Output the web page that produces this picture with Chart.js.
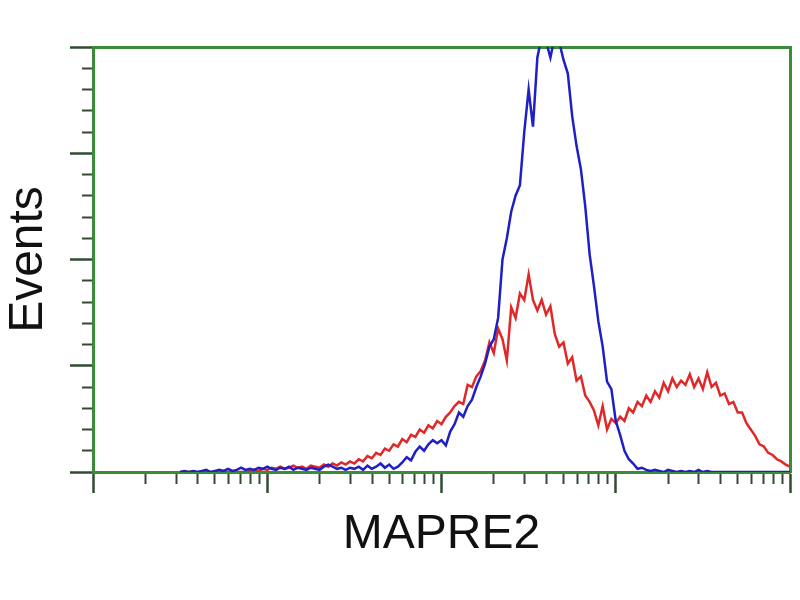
<!DOCTYPE html>
<html>
<head>
<meta charset="utf-8">
<script src="https://cdn.jsdelivr.net/npm/chart.js@4/dist/chart.umd.min.js"></script>
<style>
  html, body { margin: 0; padding: 0; background: #fff; }
  canvas { display: block; }
</style>
</head>
<body>
<canvas id="chart" width="800" height="600"></canvas>
<script>
// bin positions in log decades (0 = 10^0 ... 4 = 10^4)
const decades = [
  0.5, 0.525, 0.55, 0.575, 0.6, 0.625, 0.65, 0.675, 0.7, 0.725,
  0.75, 0.775, 0.8, 0.825, 0.85, 0.875, 0.9, 0.925, 0.95, 0.975,
  1, 1.025, 1.05, 1.075, 1.1, 1.125, 1.15, 1.175, 1.2, 1.225,
  1.25, 1.275, 1.3, 1.325, 1.35, 1.375, 1.4, 1.425, 1.45, 1.475,
  1.5, 1.525, 1.55, 1.575, 1.6, 1.625, 1.65, 1.675, 1.7, 1.725,
  1.75, 1.775, 1.8, 1.825, 1.85, 1.875, 1.9, 1.925, 1.95, 1.975,
  2, 2.025, 2.05, 2.075, 2.1, 2.125, 2.15, 2.175, 2.2, 2.225,
  2.25, 2.275, 2.3, 2.325, 2.35, 2.375, 2.4, 2.425, 2.45, 2.475,
  2.5, 2.525, 2.55, 2.575, 2.6, 2.625, 2.65, 2.675, 2.7, 2.725,
  2.75, 2.775, 2.8, 2.825, 2.85, 2.875, 2.9, 2.925, 2.95, 2.975,
  3, 3.025, 3.05, 3.075, 3.1, 3.125, 3.15, 3.175, 3.2, 3.225,
  3.25, 3.275, 3.3, 3.325, 3.35, 3.375, 3.4, 3.425, 3.45, 3.475,
  3.5, 3.525, 3.55, 3.575, 3.6, 3.625, 3.65, 3.675, 3.7, 3.725,
  3.75, 3.775, 3.8, 3.825, 3.85, 3.875, 3.9, 3.925, 3.95, 3.975,
  4
];

const blueEvents = [
  0, 0.01, 0, 0.01, 0, 0.01, 0.02, 0, 0.01, 0.02,
  0.01, 0.03, 0.01, 0.02, 0.04, 0.02, 0.03, 0.02, 0.04, 0.03,
  0.05, 0.03, 0.02, 0.04, 0.03, 0.05, 0.02, 0.04, 0.03, 0.02,
  0.04, 0.03, 0.02, 0.05, 0.07, 0.05, 0.03, 0.04, 0.02, 0.04,
  0.03, 0.05, 0.02, 0.06, 0.03, 0.05, 0.08, 0.04, 0.07, 0.03,
  0.05, 0.09, 0.14, 0.11, 0.19, 0.24, 0.20, 0.26, 0.30, 0.27,
  0.30, 0.25, 0.38, 0.45, 0.56, 0.52, 0.62, 0.68, 0.80, 0.90,
  1.02, 1.18, 1.25, 1.45, 2.00, 2.20, 2.45, 2.60, 2.70, 3.20,
  3.60, 3.25, 3.90, 4.10, 4.05, 3.90, 4.10, 4.05, 3.88, 3.75,
  3.35, 3.07, 2.85, 2.50, 2.05, 1.75, 1.42, 1.18, 0.85, 0.78,
  0.48, 0.35, 0.20, 0.12, 0.08, 0.03, 0.04, 0.02, 0.01, 0.02,
  0.01, 0, 0.02, 0.01, 0, 0.01, 0, 0.01, 0, 0.02,
  0, 0.01, 0, 0, 0, 0, 0, 0, 0, 0,
  0, 0, 0, 0, 0, 0, 0, 0, 0, 0,
  0
];

const redEvents = [
  0, 0, 0, 0, 0, 0, 0, 0, 0, 0,
  0, 0, 0, 0, 0, 0, 0.01, 0.02, 0.01, 0.03,
  0.02, 0.04, 0.03, 0.05, 0.03, 0.04, 0.06, 0.04, 0.05, 0.03,
  0.06, 0.05, 0.04, 0.07, 0.05, 0.08, 0.06, 0.09, 0.07, 0.10,
  0.08, 0.12, 0.10, 0.15, 0.13, 0.18, 0.16, 0.22, 0.20, 0.26,
  0.24, 0.31, 0.28, 0.35, 0.33, 0.40, 0.37, 0.44, 0.41, 0.48,
  0.45, 0.52, 0.56, 0.62, 0.66, 0.64, 0.82, 0.80, 0.90, 0.95,
  1.05, 1.22, 1.12, 1.35, 1.25, 1.05, 1.55, 1.45, 1.68, 1.62,
  1.86, 1.62, 1.52, 1.62, 1.48, 1.56, 1.30, 1.18, 1.22, 1.02,
  1.08, 0.86, 0.90, 0.72, 0.66, 0.58, 0.44, 0.62, 0.40, 0.50,
  0.46, 0.52, 0.48, 0.60, 0.56, 0.66, 0.62, 0.72, 0.66, 0.76,
  0.70, 0.84, 0.76, 0.88, 0.80, 0.86, 0.82, 0.92, 0.80, 0.88,
  0.78, 0.94, 0.80, 0.84, 0.72, 0.74, 0.64, 0.66, 0.56, 0.56,
  0.46, 0.40, 0.34, 0.26, 0.24, 0.18, 0.16, 0.12, 0.10, 0.07,
  0.05
];

// axis tick layout
const decadeTicks = [0, 1, 2, 3, 4];
const minorMultipliers = [2, 3, 4, 5, 6, 7, 8, 9];

const FRAME = 'rgb(58,140,58)';
const TICK = '#324a32';
const FONT = "'Liberation Sans', Arial, sans-serif";

const toPoints = (ys) => decades.map((d, i) => ({ x: d, y: ys[i] }));

const isWhole = (v) => Math.abs(v - Math.round(v)) < 1e-6;

new Chart(document.getElementById('chart'), {
  type: 'line',
  data: {
    datasets: [
      { data: toPoints(blueEvents), borderColor: '#1f1fc4', borderWidth: 2.5, pointRadius: 0, tension: 0 },
      { data: toPoints(redEvents),  borderColor: '#e02828', borderWidth: 2.5, pointRadius: 0, tension: 0 },
    ],
  },
  options: {
    responsive: false,
    animation: false,
    events: [],
    layout: { padding: { top: 47, right: 10, left: 0, bottom: 0 } },
    plugins: { legend: { display: false }, tooltip: { enabled: false } },
    scales: {
      x: {
        type: 'linear',
        position: 'bottom',
        min: 0,
        max: 4,
        afterBuildTicks: (scale) => {
          const ticks = [];
          decadeTicks.forEach((k) => {
            ticks.push({ value: k, major: true });
            if (k < 4) minorMultipliers.forEach((m) => ticks.push({ value: k + Math.log10(m), major: false }));
          });
          scale.ticks = ticks;
        },
        afterFit: (scale) => { scale.height = 128; },
        ticks: { display: false },
        grid: {
          drawOnChartArea: false,
          drawTicks: true,
          tickLength: 21,
          tickColor: TICK,
          tickWidth: (ctx) => (ctx.tick && ctx.tick.major ? 2.5 : 2),
          tickBorderDash: (ctx) => (ctx.tick && ctx.tick.major ? [] : [10, 100]),
        },
        border: { color: FRAME, width: 3 },
        title: {
          display: true,
          text: 'MAPRE2',
          color: '#111',
          font: { family: FONT, size: 48 },
          padding: { top: 0, bottom: 36 },
        },
      },
      y: {
        type: 'linear',
        position: 'left',
        min: 0,
        max: 4,
        ticks: { display: false, stepSize: 0.2 },
        afterFit: (scale) => { scale.width = 93; },
        grid: {
          drawOnChartArea: false,
          drawTicks: true,
          tickLength: 23,
          tickColor: TICK,
          tickWidth: (ctx) => (ctx.tick && isWhole(ctx.tick.value) ? 2.5 : 2),
          // left ticks run from the outside in, so minor ones skip the outer part
          tickBorderDash: (ctx) => (ctx.tick && isWhole(ctx.tick.value) ? [] : [0, 12, 12, 100]),
        },
        border: { color: FRAME, width: 3 },
        title: {
          display: true,
          text: 'Events',
          color: '#111',
          font: { family: FONT, size: 48 },
          padding: { top: 0, bottom: 0 },
        },
      },
      // plain frame lines on top and right
      x2: {
        type: 'linear',
        position: 'top',
        min: 0,
        max: 4,
        ticks: { display: false },
        grid: { display: false, drawTicks: false },
        border: { color: FRAME, width: 3 },
        afterFit: (scale) => { scale.height = 0; },
      },
      y2: {
        type: 'linear',
        position: 'right',
        min: 0,
        max: 4,
        ticks: { display: false },
        grid: { display: false, drawTicks: false },
        border: { color: FRAME, width: 3 },
        afterFit: (scale) => { scale.width = 0; },
      },
    },
  },
});
</script>
</body>
</html>
